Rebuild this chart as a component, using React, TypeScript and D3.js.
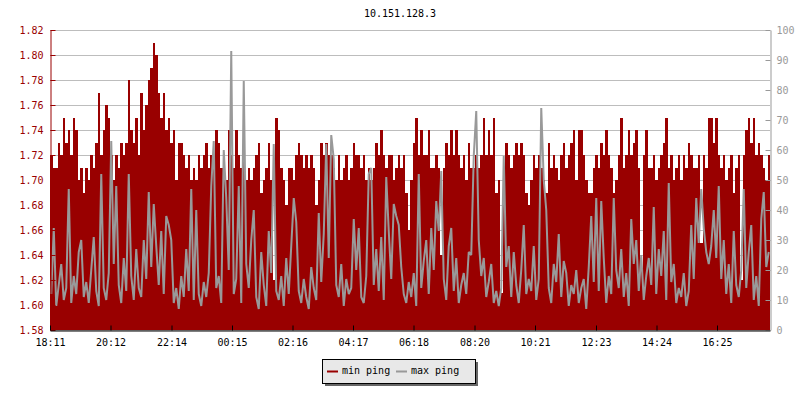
import React, { useRef, useEffect } from "react";
import * as d3 from "d3";

// ping data for 10.151.128.3, one sample every 5 minutes starting 18:11
const title = "10.151.128.3";
const startTime = "18:11";
const stepMinutes = 5;
const timeLabels = ["18:11", "20:12", "22:14", "00:15", "02:16", "04:17", "06:18", "08:20", "10:21", "12:23", "14:24", "16:25"];
const seriesNames = ["min ping", "max ping"];

const minPing = [
  1.72, 1.71, 1.71, 1.73, 1.72, 1.75, 1.73, 1.74, 1.72, 1.75, 1.74, 1.70, 1.71, 1.69, 1.71, 1.70, 1.72, 1.71, 1.73, 1.77, 1.72, 1.74, 1.76, 1.75,
  1.72, 1.70, 1.72, 1.71, 1.73, 1.72, 1.73, 1.78, 1.74, 1.73, 1.75, 1.72, 1.77, 1.74, 1.76, 1.78, 1.79, 1.81, 1.80, 1.77, 1.75, 1.77, 1.74, 1.75,
  1.73, 1.74, 1.70, 1.73, 1.73, 1.72, 1.71, 1.72, 1.70, 1.71, 1.70, 1.72, 1.71, 1.72, 1.73, 1.71, 1.72, 1.71, 1.74, 1.73, 1.71, 1.72, 1.70, 1.74,
  1.72, 1.71, 1.74, 1.72, 1.71, 1.72, 1.70, 1.71, 1.70, 1.71, 1.72, 1.73, 1.69, 1.70, 1.71, 1.73, 1.70, 1.62, 1.75, 1.74, 1.71, 1.70, 1.68, 1.71,
  1.71, 1.70, 1.72, 1.73, 1.72, 1.71, 1.72, 1.71, 1.72, 1.71, 1.68, 1.70, 1.73, 1.72, 1.73, 1.72, 1.72, 1.71, 1.70, 1.72, 1.70, 1.71, 1.72, 1.70,
  1.71, 1.73, 1.72, 1.72, 1.71, 1.72, 1.70, 1.71, 1.70, 1.71, 1.73, 1.72, 1.74, 1.72, 1.71, 1.72, 1.72, 1.70, 1.71, 1.72, 1.71, 1.72, 1.69, 1.66,
  1.70, 1.73, 1.75, 1.72, 1.74, 1.72, 1.72, 1.74, 1.71, 1.71, 1.72, 1.71, 1.64, 1.71, 1.73, 1.72, 1.74, 1.72, 1.74, 1.72, 1.71, 1.72, 1.70, 1.73,
  1.71, 1.71, 1.72, 1.71, 1.72, 1.75, 1.72, 1.74, 1.72, 1.75, 1.69, 1.70, 1.61, 1.70, 1.73, 1.72, 1.71, 1.72, 1.73, 1.72, 1.73, 1.72, 1.69, 1.68,
  1.70, 1.72, 1.71, 1.72, 1.71, 1.70, 1.69, 1.73, 1.71, 1.72, 1.71, 1.70, 1.72, 1.73, 1.71, 1.72, 1.73, 1.74, 1.70, 1.74, 1.74, 1.72, 1.70, 1.69,
  1.69, 1.71, 1.72, 1.71, 1.73, 1.72, 1.74, 1.72, 1.71, 1.69, 1.70, 1.72, 1.75, 1.71, 1.72, 1.74, 1.72, 1.73, 1.74, 1.71, 1.63, 1.72, 1.74, 1.71,
  1.71, 1.72, 1.70, 1.71, 1.72, 1.73, 1.75, 1.71, 1.72, 1.70, 1.71, 1.72, 1.70, 1.72, 1.71, 1.73, 1.72, 1.71, 1.71, 1.72, 1.65, 1.72, 1.71, 1.75,
  1.75, 1.73, 1.75, 1.72, 1.71, 1.72, 1.70, 1.71, 1.72, 1.69, 1.71, 1.72, 1.62, 1.72, 1.74, 1.75, 1.73, 1.75, 1.72, 1.73, 1.72, 1.71, 1.70, 1.72,
];

const maxPing = [
  12, 34, 8, 15, 22, 10, 14, 47, 9, 18, 12, 26, 30, 11, 16, 9, 20, 31, 13, 8, 52, 14, 10, 19,
  63, 22, 48, 15, 9, 24, 13, 52, 18, 10, 27, 14, 11, 30, 17, 46, 21, 42, 28, 15, 33, 12, 38, 35,
  30, 9, 14, 7, 18, 11, 27, 13, 47, 10, 40, 12, 8, 16, 11, 19, 48, 63, 14, 18, 9, 60, 44, 20,
  93, 12, 17, 48, 9, 83, 22, 14, 30, 40, 11, 7, 26, 15, 8, 33, 19, 62, 13, 10, 18, 8, 24, 12,
  28, 44, 36, 13, 9, 17, 11, 7, 21, 14, 10, 39, 16, 32, 62, 24, 65, 57, 15, 11, 22, 8, 17, 12,
  14, 37, 20, 34, 11, 9, 18, 52, 54, 15, 27, 13, 31, 10, 51, 33, 17, 42, 38, 35, 21, 12, 9, 16,
  11, 19, 8, 52, 14, 23, 30, 12, 34, 20, 43, 33, 53, 17, 10, 28, 34, 13, 24, 9, 15, 19, 12, 26,
  25, 58, 73, 30, 18, 24, 11, 16, 22, 9, 13, 8, 14, 58, 21, 28, 11, 26, 15, 9, 20, 35, 12, 17,
  13, 28, 10, 17, 74, 50, 40, 14, 9, 22, 16, 32, 11, 23, 19, 8, 15, 12, 20, 9, 14, 17, 7, 21,
  38, 16, 44, 13, 43, 24, 9, 18, 12, 44, 20, 14, 27, 11, 19, 8, 37, 22, 30, 13, 25, 10, 18, 24,
  15, 41, 12, 27, 18, 33, 10, 49, 16, 22, 9, 14, 11, 19, 8, 13, 35, 17, 44, 29, 47, 34, 26, 22,
  28, 40, 24, 48, 17, 30, 12, 22, 9, 33, 15, 11, 20, 47, 14, 26, 35, 10, 18, 8, 37, 46, 21, 26,
];

const RED = "#990000";
const GRAY = "#999999";
const FONT = "'DejaVu Sans Mono', monospace";

const toMinutes = (s: string) => {
  const [h, m] = s.split(":").map(Number);
  return h * 60 + m;
};

const PingChart = () => {
  const ref = useRef<SVGSVGElement>(null);

  useEffect(() => {
    const width = 800;
    const height = 400;
    const margin = { top: 30, right: 30, bottom: 70, left: 50 };
    const svg = d3.select(ref.current);
    svg.selectAll("*").remove();

    const x = d3.scaleLinear().domain([0, 1440]).range([margin.left, width - margin.right]);
    const yLeft = d3.scaleLinear().domain([1.58, 1.82]).range([height - margin.bottom, margin.top]);
    const yRight = d3.scaleLinear().domain([0, 100]).range([height - margin.bottom, margin.top]);

    const start = toMinutes(startTime);
    const offsets = timeLabels.map((t) => (toMinutes(t) - start + 1440) % 1440);

    svg.append("rect").attr("width", width).attr("height", height).attr("fill", "#fff");

    // grid
    svg
      .append("g")
      .selectAll("line")
      .data(yLeft.ticks(12))
      .enter()
      .append("line")
      .attr("x1", margin.left)
      .attr("x2", width - margin.right)
      .attr("y1", (d) => Math.round(yLeft(d)) + 0.5)
      .attr("y2", (d) => Math.round(yLeft(d)) + 0.5)
      .attr("stroke", "#bdbdbd");

    // min ping area
    const minPts = minPing.map((v, i) => [i * stepMinutes, v]);
    minPts.push([1440, minPing[minPing.length - 1]]);
    const area = d3
      .area<number[]>()
      .x((d) => x(d[0]))
      .y0(yLeft(1.58))
      .y1((d) => yLeft(d[1]))
      .curve(d3.curveStepAfter);
    svg
      .append("path")
      .datum(minPts)
      .attr("d", area)
      .attr("fill", RED)
      .attr("shape-rendering", "crispEdges");

    // max ping line
    const line = d3
      .line<number>()
      .x((d, i) => x(i * stepMinutes + stepMinutes / 2))
      .y((d) => yRight(d));
    svg
      .append("path")
      .datum(maxPing)
      .attr("d", line)
      .attr("fill", "none")
      .attr("stroke", GRAY)
      .attr("stroke-width", 2)
      .attr("stroke-linejoin", "bevel");

    // left axis
    const left = svg.append("g").attr("transform", `translate(${margin.left + 0.5},0)`);
    left.call(d3.axisLeft(yLeft).tickValues(yLeft.ticks(24)).tickSize(-3).tickSizeOuter(0).tickFormat(() => ""));
    left.call(
      d3.axisLeft(yLeft).tickValues(yLeft.ticks(12)).tickSize(-5).tickSizeOuter(0).tickPadding(7).tickFormat(d3.format(".2f"))
    );
    left.selectAll("path,line").attr("stroke", RED);
    left.selectAll("text").attr("fill", RED).style("font-family", FONT).style("font-size", "10px");

    // right axis
    const right = svg.append("g").attr("transform", `translate(${width - margin.right + 0.5},0)`);
    right.call(d3.axisRight(yRight).tickValues(yRight.ticks(20)).tickSize(-3).tickSizeOuter(0).tickFormat(() => ""));
    right.call(d3.axisRight(yRight).tickValues(yRight.ticks(10)).tickSize(-5).tickSizeOuter(0).tickPadding(6));
    right.selectAll("path,line").attr("stroke", GRAY);
    right.selectAll("text").attr("fill", GRAY).style("font-family", FONT).style("font-size", "10px");

    // bottom axis
    const bottom = svg.append("g").attr("transform", `translate(0,${height - margin.bottom + 0.5})`);
    bottom.call(
      d3
        .axisBottom(x)
        .tickValues(offsets)
        .tickSize(-5)
        .tickSizeOuter(0)
        .tickPadding(8)
        .tickFormat((d, i) => timeLabels[i])
    );
    bottom.selectAll("path,line").attr("stroke", "#000");
    bottom.selectAll("text").attr("fill", "#000").style("font-family", FONT).style("font-size", "10px");

    // title
    svg
      .append("text")
      .attr("x", width / 2)
      .attr("y", 17)
      .attr("text-anchor", "middle")
      .style("font-family", FONT)
      .style("font-size", "10px")
      .text(title);

    // legend
    const lg = svg.append("g").attr("transform", "translate(322,359)");
    lg.append("rect").attr("x", 3).attr("y", 3).attr("width", 153).attr("height", 24).attr("fill", "#666");
    lg.append("rect")
      .attr("x", 0.5)
      .attr("y", 0.5)
      .attr("width", 153)
      .attr("height", 24)
      .attr("fill", "#e8e8e8")
      .attr("stroke", "#000");
    const colors = [RED, GRAY];
    seriesNames.forEach((name, i) => {
      const ox = 5 + i * 69;
      lg.append("line")
        .attr("x1", ox)
        .attr("x2", ox + 11)
        .attr("y1", 12.5)
        .attr("y2", 12.5)
        .attr("stroke", colors[i])
        .attr("stroke-width", 2);
      lg.append("text")
        .attr("x", ox + 15)
        .attr("y", 15)
        .style("font-family", FONT)
        .style("font-size", "10px")
        .text(name);
    });
  }, []);

  return (
    <svg ref={ref} width={800} height={400} style={{ position: "absolute", left: 0, top: 0, display: "block" }} />
  );
};

export default function App() {
  return <PingChart />;
}
